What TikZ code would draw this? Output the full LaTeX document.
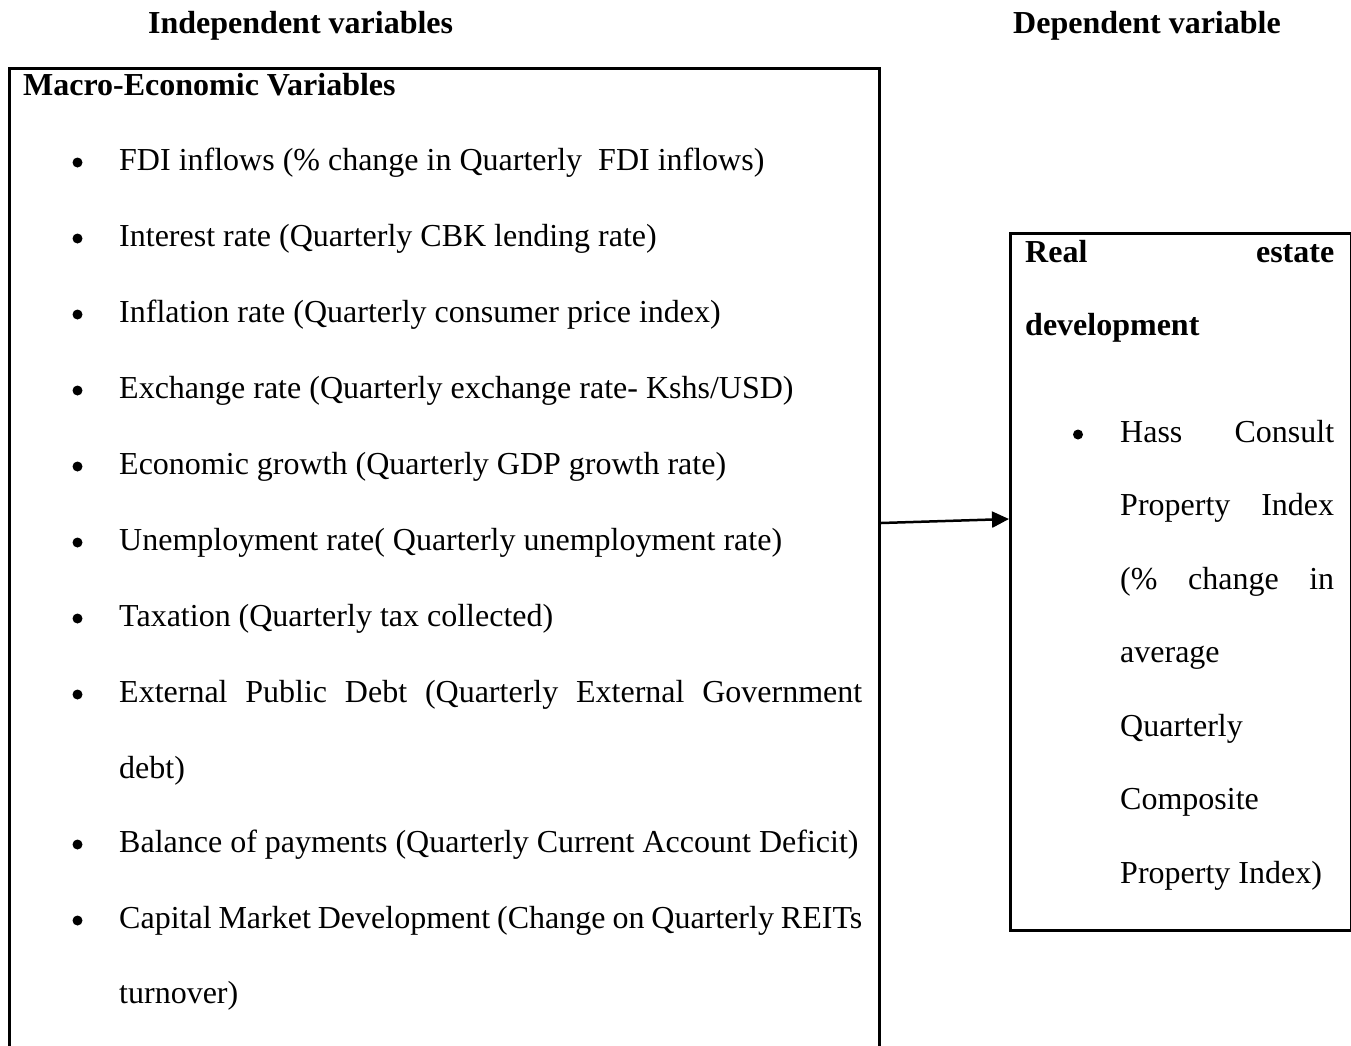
\documentclass[tikz,border=0pt]{standalone}
\usepackage{fontspec}
\setmainfont{Liberation Serif}
\usetikzlibrary{arrows.meta,calc}

\begin{document}
\begin{tikzpicture}[x=1pt,y=-1pt,
  txt/.style={anchor=base west,inner sep=0pt,font=\fontsize{32}{38}\selectfont},
  head/.style={txt,font=\fontsize{32}{38}\selectfont\bfseries},
  frame/.style={draw,line width=2.9pt,inner sep=0pt,anchor=north west},
  dot/.style={circle,fill,inner sep=0pt,minimum size=10pt},
  link/.style={line width=2.5pt,-{Triangle[length=17pt,width=16pt]}}]
\clip (0,0) rectangle (1351,1045);
\fill[white] (0,0) rectangle (1351,1045);

% column headings
\node[head] (hin) at (148,33) {Independent variables};
\node[head] (hdep) at (1013,33) {Dependent variable};

% boxes (the left one runs past the lower edge)
\node[frame,minimum width=870pt,minimum height=1010pt] (indep) at (8,67) {};
\node[frame,minimum width=341pt,minimum height=697pt] (dep) at (1009,232) {};

% independent variables
\node[head] (mev) at (23,95) {Macro-Economic Variables};
\foreach \name/\y/\t in {
  b1/170/{FDI inflows (\% change in Quarterly\ \ FDI inflows)},
  b2/246/{Interest rate (Quarterly CBK lending rate)},
  b3/322/{Inflation rate (Quarterly consumer price index)},
  b4/398/{Exchange rate (Quarterly exchange rate- Kshs/USD)},
  b5/474/{Economic growth (Quarterly GDP growth rate)},
  b6/550/{Unemployment rate( Quarterly unemployment rate)},
  b7/626/{Taxation (Quarterly tax collected)},
  b8/702/{\makebox[743pt][s]{External Public Debt (Quarterly External Government}},
  b10/852/{Balance of payments (Quarterly Current Account Deficit)},
  b11/928/{\makebox[743pt][s]{Capital Market Development (Change on Quarterly REITs}}}
{
  \node[txt] (\name) at (119,\y) {\t};
  \node[dot] (\name d) at (77.5,\y-7.5) {};
}
\node[txt] (b9) at (119,778) {debt)};
\node[txt] (b12) at (119,1003) {turnover)};

% dependent variable
\node[head] (r1) at (1025,262) {\makebox[309pt][s]{Real estate}};
\node[head] (r2) at (1025,335) {development};
\node[dot] (rd) at (1078,434.5) {};
\node[txt] (r3) at (1120,442) {\makebox[214pt][s]{Hass Consult}};
\node[txt] (r4) at (1120,515) {\makebox[214pt][s]{Property Index}};
\node[txt] (r5) at (1120,589) {\makebox[214pt][s]{(\% change in}};
\node[txt] (r6) at (1120,662) {average};
\node[txt] (r7) at (1120,736) {Quarterly};
\node[txt] (r8) at (1120,809) {Composite};
\node[txt] (r9) at (1120,883) {Property Index)};

% link
\draw[link] ($(indep.north east)+(0,456)$) -- ($(dep.north west)+(0,287)$);
\end{tikzpicture}
\end{document}
